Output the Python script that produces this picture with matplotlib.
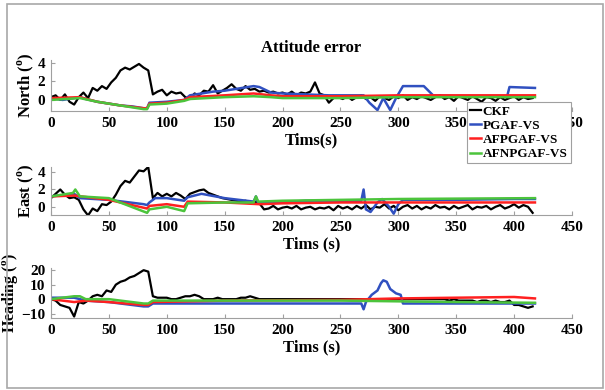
import numpy as np
import matplotlib
matplotlib.use("Agg")
import matplotlib.pyplot as plt
from matplotlib.patches import Rectangle

plt.rcParams['font.family'] = ['Liberation Serif', 'DejaVu Serif']
plt.rcParams['font.weight'] = 'bold'
plt.rcParams['mathtext.fontset'] = 'custom'
plt.rcParams['mathtext.rm'] = 'Liberation Serif:bold'
plt.rcParams['mathtext.bf'] = 'Liberation Serif:bold'

series_names = ["CKF", "PGAF-VS", "AFPGAF-VS", "AFNPGAF-VS"]
colors = ["#000000", "#3050c0", "#ff2020", "#4cc43c"]

# CKF sampled every 4 s
t_ckf = np.arange(0, 420, 4)
north_ckf = [0.3, 0.5, 0.0, 0.6, -0.2, -0.5, 0.3, 0.8, 0.2, 1.3, 1.0, 1.5, 1.2, 1.9, 2.4, 3.2, 3.5, 3.3, 3.6, 3.9,
             3.5, 3.2, 0.6, 0.9, 1.1, 0.5, 0.9, 0.7, 0.8, 0.3, 0.1, 0.7, 0.5, 1.0, 0.9, 1.6, 0.7, 1.0, 1.3, 1.7,
             1.2, 1.0, 1.5, 1.1, 1.2, 0.9, 1.0, 0.8, 0.9, 0.7, 0.8, 0.6, 0.9, 0.5, 0.8, 0.7, 0.9, 1.9, 0.7, 0.5,
             -0.3, 0.2, 0.3, 0.1, 0.4, 0.0, 0.3, 0.5, 0.1, 0.3, -0.1, 0.4, 0.2, 0.0, 0.4, 0.2, 0.5, 0.0, 0.3, 0.1,
             0.4, 0.2, 0.0, 0.3, 0.5, 0.1, 0.3, -0.1, 0.4, 0.2, 0.0, 0.4, 0.1, -0.2, 0.3, 0.2, -0.1, 0.3, 0.0, 0.2,
             0.4, 0.0, 0.3, 0.1, 0.2]
east_ckf = [1.0, 1.5, 2.0, 1.4, 1.0, 1.1, 0.8, -0.3, -1.0, -0.2, -0.5, 0.3, 0.2, 0.6, 1.4, 2.4, 3.0, 2.8, 3.5, 4.2,
            4.1, 4.6, 1.0, 1.6, 1.2, 1.5, 1.2, 1.6, 1.3, 0.9, 1.5, 1.7, 1.9, 2.0, 1.6, 1.4, 1.2, 1.0, 0.9, 0.8,
            0.7, 0.6, 0.7, 0.5, 0.6, 0.4, -0.3, -0.2, 0.1, -0.3, -0.1, 0.0, -0.2, 0.1, -0.3, -0.1, 0.0, -0.3, -0.1, -0.2,
            0.0, -0.4, 0.1, -0.2, 0.0, -0.3, 0.1, -0.2, 0.2, -0.3, 0.0, -0.1, 0.3, -0.2, 0.1, -0.4, 0.0, 0.2, -0.2, 0.1,
            -0.3, 0.0, -0.2, 0.2, -0.1, 0.0, -0.3, 0.1, -0.2, 0.0, 0.2, -0.3, 0.0, -0.1, 0.1, -0.3, 0.0, 0.2, -0.2, 0.0,
            0.3, -0.1, 0.2, 0.0, -0.7]
head_ckf = [0, -1, -4, -5, -6, -12, -2, -3, -1, 2, 3, 2, 6, 5, 10, 12, 13, 15, 16, 18,
            20, 19, 2, 1, 1, 1, 0, 0, 1, 2, 2, 3, 2, 0, 0, 0, 1, 0, 0, 0,
            0, 1, 1, 2, 1, 0, 0, 0, 0, 0, 0, 0, 0, 0, 0, 0, 0, 0, 0, 0,
            0, 0, 0, 0, 0, 0, 0, 0, 0, 0, 0, 0, 0, 0, 0, 0, 0, 0, 0, 0,
            0, 0, 0, 0, 0, 0, -1, 0, -1, -1, -1, -1, -2, -1, -1, -2, -1, -2, -2, -1,
            -4, -4, -5, -6, -5]

# PGAF-VS
t_n_pg = [0, 10, 20, 25, 30, 40, 50, 60, 70, 80, 83, 85, 100, 115, 120, 130, 140, 150, 160, 170, 175, 180, 190,
          200, 220, 240, 250, 270, 275, 282, 287, 293, 298, 304, 315, 322, 330, 350, 370, 394, 396, 418]
north_pg = [0.2, 0.0, 0.2, 0.3, 0.1, -0.2, -0.4, -0.6, -0.7, -0.9, -0.9, -0.3, -0.2, 0.0, 0.5, 0.7, 0.9, 1.0, 1.2,
            1.4, 1.5, 1.4, 0.8, 0.7, 0.6, 0.5, 0.5, 0.5, -0.3, -1.1, 0.2, -1.1, 0.2, 1.5, 1.5, 1.5, 0.5, 0.4, 0.4,
            0.4, 1.4, 1.3]
t_e_pg = [0, 20, 25, 50, 80, 83, 85, 90, 100, 115, 118, 130, 150, 175, 177, 179, 200, 220, 250, 268, 270, 272,
          276, 282, 286, 292, 296, 300, 304, 350, 400, 418]
east_pg = [1.2, 1.5, 1.0, 0.8, 0.3, 0.2, 0.5, 1.0, 1.0, 0.7, 1.1, 1.5, 1.0, 0.6, 1.2, 0.4, 0.5, 0.7, 0.7, 0.7,
           2.0, -0.3, -0.6, 0.5, 0.9, 0.0, -0.8, 0.3, 0.8, 0.8, 0.9, 0.9]
t_h_pg = [0, 20, 25, 30, 50, 60, 80, 84, 88, 100, 120, 150, 200, 250, 268, 270, 272, 277, 282, 285, 287, 290,
          293, 298, 302, 304, 350, 418]
head_pg = [1, 1, 0, -1, -2, -3, -5, -5, -3, -3, -3, -3, -3, -3, -3, -7, -2, 3, 6, 11, 13, 12, 7, 4, 3, -3, -3, -3]

# AFPGAF-VS
t_n_afp = [0, 25, 40, 60, 80, 83, 85, 100, 115, 120, 150, 175, 190, 200, 250, 300, 350, 418]
north_afp = [0.2, 0.3, -0.2, -0.6, -0.9, -0.9, -0.4, -0.3, 0.0, 0.3, 0.5, 0.7, 0.5, 0.4, 0.4, 0.5, 0.5, 0.5]
t_e_afp = [0, 20, 50, 83, 85, 100, 115, 118, 150, 180, 200, 250, 300, 418]
east_afp = [1.2, 1.3, 0.8, -0.2, 0.1, 0.3, 0.0, 0.6, 0.5, 0.3, 0.4, 0.5, 0.5, 0.5]
t_h_afp = [0, 10, 20, 30, 50, 80, 84, 88, 150, 250, 300, 350, 400, 418]
head_afp = [0, -1, -2, -1, -2, -4, -4, -2, -1, -0.5, 0.5, 1.0, 1.5, 0.5]

# AFNPGAF-VS
t_n_afn = [0, 25, 40, 60, 80, 83, 85, 100, 115, 120, 150, 175, 190, 200, 250, 300, 350, 418]
north_afn = [0.0, 0.2, -0.2, -0.6, -1.0, -1.0, -0.5, -0.4, -0.1, 0.1, 0.3, 0.4, 0.3, 0.2, 0.2, 0.3, 0.3, 0.3]
t_e_afn = [0, 19, 21, 25, 50, 83, 85, 100, 115, 118, 150, 175, 177, 179, 200, 250, 300, 418]
east_afn = [1.2, 1.6, 2.0, 1.2, 1.0, -0.7, -0.3, 0.0, -0.5, 0.4, 0.5, 0.5, 1.2, 0.6, 0.7, 0.8, 0.9, 1.0]
t_h_afn = [0, 10, 20, 25, 30, 50, 80, 84, 88, 150, 250, 300, 350, 418]
head_afn = [0, 1, 2, 2, 0, 0, -3, -3, -1, -1, -1, -1.5, -2, -2.5]

xticks = [0, 50, 100, 150, 200, 250, 300, 350, 400, 450]

W, H = 605, 390
fig = plt.figure(figsize=(W / 100, H / 100), dpi=100)

def frac(x0, y0, x1, y1):
    return [x0 / W, 1 - y1 / H, (x1 - x0) / W, (y1 - y0) / H]

panels = [
    dict(rect=frac(51, 60, 572, 111), ylim=(-1.2, 4.33), yticks=[0, 2, 4], ylabel='North ($^{\\mathbf{o}}$)',
         data=[(t_ckf, north_ckf), (t_n_pg, north_pg), (t_n_afp, north_afp), (t_n_afn, north_afn)],
         xlabel='Tims(s)'),
    dict(rect=frac(51, 167, 572, 215), ylim=(-0.95, 4.6), yticks=[0, 2, 4], ylabel='East ($^{\\mathbf{o}}$)',
         data=[(t_ckf, east_ckf), (t_e_pg, east_pg), (t_e_afp, east_afp), (t_e_afn, east_afn)],
         xlabel='Tims (s)'),
    dict(rect=frac(51, 268, 572, 318), ylim=(-13, 21.5), yticks=[-10, 0, 10, 20], ylabel='Heading ($^{\\mathbf{o}}$)',
         data=[(t_ckf, head_ckf), (t_h_pg, head_pg), (t_h_afp, head_afp), (t_h_afn, head_afn)],
         xlabel='Tims (s)'),
]

handles = []
for i, p in enumerate(panels):
    ax = fig.add_axes(p['rect'])
    for k, (t, v) in enumerate(p['data']):
        ln, = ax.plot(t, v, color=colors[k], lw=1.6 if k == 0 else 1.8)
        if i == 0:
            handles.append(ln)
    ax.set_xlim(0, 450)
    ax.set_ylim(*p['ylim'])
    ax.set_xticks(xticks)
    ax.set_yticks(p['yticks'])
    for s in ['top', 'right']:
        ax.spines[s].set_visible(False)
    for s in ['left', 'bottom']:
        ax.spines[s].set_color('#a0a0a0')
        ax.spines[s].set_linewidth(0.8)
    ax.tick_params(direction='in', length=3, color='#a0a0a0', labelsize=11, pad=4)
    for lab in ax.get_xticklabels() + ax.get_yticklabels():
        lab.set_fontweight('bold')
    ax.set_ylabel(p['ylabel'], fontsize=11.5 if i == 2 else 12, fontweight='bold', labelpad=1)
    ax.set_xlabel(p['xlabel'], fontsize=12, fontweight='bold', labelpad=2)
    ax.set_facecolor('none')
    if i == 0:
        ax.set_title('Attitude error', fontsize=12, fontweight='bold', pad=6)

leg = fig.legend(handles, series_names, loc='upper right', bbox_to_anchor=(571 / W, 1 - 102 / H),
                 prop={'family': 'Liberation Serif', 'weight': 'bold', 'size': 9.5},
                 handlelength=0.8, handletextpad=0.15, borderpad=0.25, labelspacing=0.15,
                 fancybox=False, framealpha=1, edgecolor='#a0a0a0', borderaxespad=0)
leg.get_frame().set_linewidth(0.8)

fig.patches.append(Rectangle((7 / W, 1 - 388 / H), (603 - 7) / W, (388 - 4) / H, transform=fig.transFigure,
                             fill=False, edgecolor='#a8a8a8', linewidth=1.2))

fig.savefig('out.png', dpi=100)
